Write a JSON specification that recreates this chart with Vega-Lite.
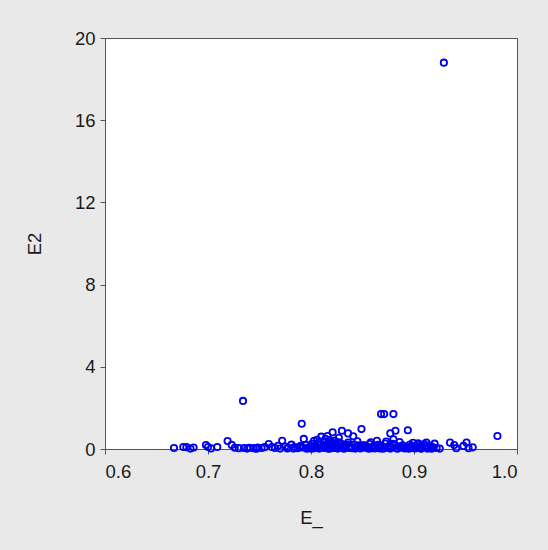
{
  "$schema": "https://vega.github.io/schema/vega-lite/v6.json",
  "autosize": "none",
  "width": 412,
  "height": 411,
  "padding": {"left": 105, "top": 38, "right": 31, "bottom": 101},
  "background": "#e9e9e9",
  "config": {
    "view": {"fill": "white", "stroke": "#555555", "strokeWidth": 1},
    "font": "Liberation Sans",
    "axis": {"grid": false, "domainColor": "#555555", "tickColor": "#555555", "labelColor": "#1a1a1a", "titleColor": "#1a1a1a", "labelFontSize": 18.5, "titleFontSize": 18.5, "titleFontWeight": "normal", "labelFont": "Liberation Sans", "titleFont": "Liberation Sans", "tickSize": 5}
  },
  "data": {"values": [
    {"E_": 0.929, "E2": 18.8},
    {"E_": 0.734, "E2": 2.34},
    {"E_": 0.791, "E2": 1.23},
    {"E_": 0.793, "E2": 0.49},
    {"E_": 0.868, "E2": 1.70},
    {"E_": 0.871, "E2": 1.70},
    {"E_": 0.880, "E2": 1.70},
    {"E_": 0.830, "E2": 0.89},
    {"E_": 0.836, "E2": 0.76},
    {"E_": 0.841, "E2": 0.62},
    {"E_": 0.821, "E2": 0.81},
    {"E_": 0.849, "E2": 0.97},
    {"E_": 0.877, "E2": 0.76},
    {"E_": 0.882, "E2": 0.89},
    {"E_": 0.894, "E2": 0.91},
    {"E_": 0.880, "E2": 0.47},
    {"E_": 0.981, "E2": 0.63},
    {"E_": 0.810, "E2": 0.60},
    {"E_": 0.816, "E2": 0.63},
    {"E_": 0.803, "E2": 0.40},
    {"E_": 0.836, "E2": 0.31},
    {"E_": 0.935, "E2": 0.31},
    {"E_": 0.939, "E2": 0.19},
    {"E_": 0.951, "E2": 0.31},
    {"E_": 0.948, "E2": 0.15},
    {"E_": 0.957, "E2": 0.08},
    {"E_": 0.920, "E2": 0.26},
    {"E_": 0.912, "E2": 0.31},
    {"E_": 0.772, "E2": 0.40},
    {"E_": 0.667, "E2": 0.05},
    {"E_": 0.676, "E2": 0.10},
    {"E_": 0.679, "E2": 0.09},
    {"E_": 0.686, "E2": 0.07},
    {"E_": 0.698, "E2": 0.19},
    {"E_": 0.700, "E2": 0.10},
    {"E_": 0.709, "E2": 0.10},
    {"E_": 0.719, "E2": 0.39},
    {"E_": 0.723, "E2": 0.20},
    {"E_": 0.726, "E2": 0.06},
    {"E_": 0.730, "E2": 0.04},
    {"E_": 0.735, "E2": 0.05},
    {"E_": 0.740, "E2": 0.06},
    {"E_": 0.744, "E2": 0.04},
    {"E_": 0.748, "E2": 0.07},
    {"E_": 0.752, "E2": 0.05},
    {"E_": 0.755, "E2": 0.09},
    {"E_": 0.759, "E2": 0.24},
    {"E_": 0.762, "E2": 0.10},
    {"E_": 0.765, "E2": 0.05},
    {"E_": 0.768, "E2": 0.16},
    {"E_": 0.775, "E2": 0.12},
    {"E_": 0.778, "E2": 0.06},
    {"E_": 0.781, "E2": 0.21},
    {"E_": 0.784, "E2": 0.10},
    {"E_": 0.787, "E2": 0.04},
    {"E_": 0.790, "E2": 0.15},
    {"E_": 0.792, "E2": 0.07},
    {"E_": 0.795, "E2": 0.20},
    {"E_": 0.797, "E2": 0.05},
    {"E_": 0.799, "E2": 0.12},
    {"E_": 0.801, "E2": 0.25},
    {"E_": 0.802, "E2": 0.03},
    {"E_": 0.804, "E2": 0.15},
    {"E_": 0.805, "E2": 0.08},
    {"E_": 0.807, "E2": 0.30},
    {"E_": 0.808, "E2": 0.02},
    {"E_": 0.809, "E2": 0.18},
    {"E_": 0.811, "E2": 0.10},
    {"E_": 0.812, "E2": 0.35},
    {"E_": 0.813, "E2": 0.05},
    {"E_": 0.815, "E2": 0.22},
    {"E_": 0.816, "E2": 0.12},
    {"E_": 0.818, "E2": 0.03},
    {"E_": 0.819, "E2": 0.28},
    {"E_": 0.820, "E2": 0.15},
    {"E_": 0.822, "E2": 0.07},
    {"E_": 0.823, "E2": 0.40},
    {"E_": 0.825, "E2": 0.20},
    {"E_": 0.826, "E2": 0.02},
    {"E_": 0.828, "E2": 0.11},
    {"E_": 0.829, "E2": 0.26},
    {"E_": 0.831, "E2": 0.06},
    {"E_": 0.833, "E2": 0.17},
    {"E_": 0.834, "E2": 0.09},
    {"E_": 0.838, "E2": 0.14},
    {"E_": 0.840, "E2": 0.04},
    {"E_": 0.842, "E2": 0.22},
    {"E_": 0.844, "E2": 0.08},
    {"E_": 0.846, "E2": 0.13},
    {"E_": 0.848, "E2": 0.03},
    {"E_": 0.851, "E2": 0.19},
    {"E_": 0.853, "E2": 0.06},
    {"E_": 0.855, "E2": 0.11},
    {"E_": 0.857, "E2": 0.24},
    {"E_": 0.859, "E2": 0.04},
    {"E_": 0.861, "E2": 0.15},
    {"E_": 0.863, "E2": 0.08},
    {"E_": 0.865, "E2": 0.20},
    {"E_": 0.867, "E2": 0.03},
    {"E_": 0.869, "E2": 0.12},
    {"E_": 0.872, "E2": 0.27},
    {"E_": 0.874, "E2": 0.06},
    {"E_": 0.876, "E2": 0.16},
    {"E_": 0.878, "E2": 0.09},
    {"E_": 0.881, "E2": 0.21},
    {"E_": 0.883, "E2": 0.04},
    {"E_": 0.885, "E2": 0.13},
    {"E_": 0.887, "E2": 0.07},
    {"E_": 0.889, "E2": 0.18},
    {"E_": 0.891, "E2": 0.03},
    {"E_": 0.893, "E2": 0.10},
    {"E_": 0.896, "E2": 0.22},
    {"E_": 0.898, "E2": 0.05},
    {"E_": 0.900, "E2": 0.14},
    {"E_": 0.902, "E2": 0.08},
    {"E_": 0.904, "E2": 0.19},
    {"E_": 0.906, "E2": 0.04},
    {"E_": 0.908, "E2": 0.12},
    {"E_": 0.910, "E2": 0.24},
    {"E_": 0.914, "E2": 0.06},
    {"E_": 0.916, "E2": 0.16},
    {"E_": 0.918, "E2": 0.09},
    {"E_": 0.922, "E2": 0.05},
    {"E_": 0.806, "E2": 0.45},
    {"E_": 0.814, "E2": 0.50},
    {"E_": 0.818, "E2": 0.42},
    {"E_": 0.827, "E2": 0.55},
    {"E_": 0.845, "E2": 0.38},
    {"E_": 0.858, "E2": 0.33},
    {"E_": 0.864, "E2": 0.40},
    {"E_": 0.873, "E2": 0.36},
    {"E_": 0.886, "E2": 0.34},
    {"E_": 0.899, "E2": 0.30},
    {"E_": 0.904, "E2": 0.28},
    {"E_": 0.800, "E2": 0.02},
    {"E_": 0.806, "E2": 0.06},
    {"E_": 0.812, "E2": 0.09},
    {"E_": 0.817, "E2": 0.01},
    {"E_": 0.821, "E2": 0.30},
    {"E_": 0.824, "E2": 0.05},
    {"E_": 0.832, "E2": 0.01},
    {"E_": 0.837, "E2": 0.05},
    {"E_": 0.843, "E2": 0.02},
    {"E_": 0.850, "E2": 0.08},
    {"E_": 0.856, "E2": 0.01},
    {"E_": 0.862, "E2": 0.03},
    {"E_": 0.866, "E2": 0.10},
    {"E_": 0.870, "E2": 0.01},
    {"E_": 0.877, "E2": 0.02},
    {"E_": 0.884, "E2": 0.01},
    {"E_": 0.890, "E2": 0.06},
    {"E_": 0.895, "E2": 0.01},
    {"E_": 0.901, "E2": 0.03},
    {"E_": 0.907, "E2": 0.01},
    {"E_": 0.913, "E2": 0.02},
    {"E_": 0.917, "E2": 0.01},
    {"E_": 0.796, "E2": 0.01},
    {"E_": 0.789, "E2": 0.09},
    {"E_": 0.783, "E2": 0.02},
    {"E_": 0.777, "E2": 0.03},
    {"E_": 0.770, "E2": 0.02},
    {"E_": 0.747, "E2": 0.01},
    {"E_": 0.738, "E2": 0.02},
    {"E_": 0.683, "E2": 0.02},
    {"E_": 0.703, "E2": 0.03},
    {"E_": 0.941, "E2": 0.04},
    {"E_": 0.953, "E2": 0.04},
    {"E_": 0.925, "E2": 0.02},
    {"E_": 0.803, "E2": 0.14},
    {"E_": 0.808, "E2": 0.22},
    {"E_": 0.814, "E2": 0.17},
    {"E_": 0.817, "E2": 0.32},
    {"E_": 0.820, "E2": 0.04},
    {"E_": 0.824, "E2": 0.13},
    {"E_": 0.827, "E2": 0.33},
    {"E_": 0.830, "E2": 0.14},
    {"E_": 0.835, "E2": 0.21},
    {"E_": 0.839, "E2": 0.09},
    {"E_": 0.847, "E2": 0.18},
    {"E_": 0.852, "E2": 0.12},
    {"E_": 0.860, "E2": 0.07},
    {"E_": 0.868, "E2": 0.17},
    {"E_": 0.875, "E2": 0.11},
    {"E_": 0.879, "E2": 0.25},
    {"E_": 0.888, "E2": 0.10},
    {"E_": 0.897, "E2": 0.12},
    {"E_": 0.905, "E2": 0.09},
    {"E_": 0.911, "E2": 0.14}
  ]},
  "mark": {"type": "point", "shape": "circle", "filled": false, "color": "#0000f0", "strokeWidth": 1.8, "size": 40, "opacity": 1},
  "encoding": {
    "x": {"field": "E_", "type": "quantitative", "scale": {"domain": [0.6, 1.0], "nice": false, "zero": false}, "axis": {"values": [0.6, 0.7, 0.8, 0.9, 1.0], "format": ".1f", "labelPadding": 8, "titlePadding": 28, "title": "E_"}},
    "y": {"field": "E2", "type": "quantitative", "scale": {"domain": [0, 20], "nice": false}, "axis": {"values": [0, 4, 8, 12, 16, 20], "labelPadding": 5, "titlePadding": 30, "title": "E2"}}
  }
}
